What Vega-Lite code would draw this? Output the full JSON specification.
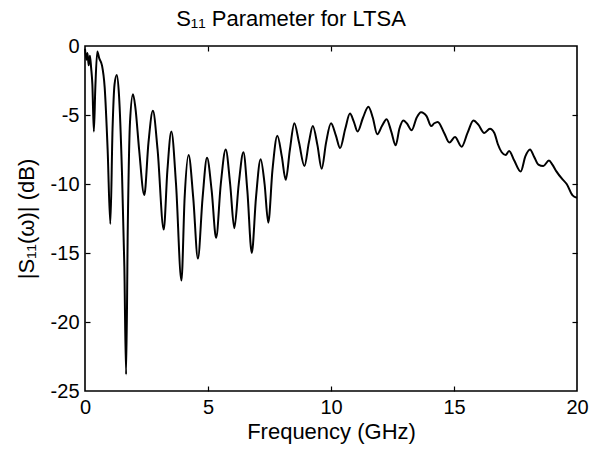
{
  "$schema": "https://vega.github.io/schema/vega-lite/v6.json",
  "width": 492,
  "height": 345,
  "autosize": "none",
  "padding": {"left": 85, "top": 46, "right": 15, "bottom": 58},
  "background": "white",
  "config": {
    "font": "Liberation Sans",
    "view": {"stroke": "black", "strokeWidth": 1.6},
    "axis": {
      "grid": false,
      "domain": false,
      "tickColor": "black",
      "tickWidth": 1.2,
      "labelColor": "black",
      "labelFontSize": 20,
      "labelFont": "Liberation Sans",
      "titleFont": "Liberation Sans",
      "titleFontSize": 22,
      "titleFontWeight": "normal",
      "titleColor": "black"
    }
  },
  "title": {
    "text": "S₁₁ Parameter for LTSA",
    "fontSize": 22,
    "fontWeight": "normal",
    "font": "Liberation Sans",
    "color": "black",
    "offset": 5,
    "dx": -40
  },
  "data": {
    "values": [
      {"f": 0, "db": -0.2}, {"f": 0.06, "db": -1.0}, {"f": 0.1, "db": -0.5}, {"f": 0.15, "db": -1.4},
      {"f": 0.2, "db": -0.7}, {"f": 0.25, "db": -1.6}, {"f": 0.3, "db": -2.8}, {"f": 0.36, "db": -6.2},
      {"f": 0.42, "db": -3.0}, {"f": 0.5, "db": -0.4}, {"f": 0.58, "db": -0.9}, {"f": 0.69, "db": -1.4},
      {"f": 0.8, "db": -3.0}, {"f": 0.92, "db": -7.5}, {"f": 1.03, "db": -12.9}, {"f": 1.12, "db": -6.0},
      {"f": 1.2, "db": -2.8}, {"f": 1.29, "db": -2.1}, {"f": 1.38, "db": -3.5}, {"f": 1.5, "db": -9},
      {"f": 1.6, "db": -16}, {"f": 1.67, "db": -23.8}, {"f": 1.74, "db": -13}, {"f": 1.83, "db": -5.5},
      {"f": 1.95, "db": -3.5}, {"f": 2.05, "db": -4.5}, {"f": 2.2, "db": -7.5}, {"f": 2.41, "db": -10.8},
      {"f": 2.58, "db": -7}, {"f": 2.76, "db": -4.7}, {"f": 2.95, "db": -7.5}, {"f": 3.2, "db": -13.3},
      {"f": 3.35, "db": -9}, {"f": 3.51, "db": -6.2}, {"f": 3.7, "db": -10}, {"f": 3.92, "db": -17.0},
      {"f": 4.05, "db": -11}, {"f": 4.21, "db": -7.9}, {"f": 4.4, "db": -11}, {"f": 4.59, "db": -15.4},
      {"f": 4.78, "db": -11}, {"f": 4.96, "db": -8.1}, {"f": 5.15, "db": -10.5}, {"f": 5.33, "db": -13.9},
      {"f": 5.52, "db": -10}, {"f": 5.72, "db": -7.5}, {"f": 5.9, "db": -10}, {"f": 6.07, "db": -13.2},
      {"f": 6.25, "db": -10}, {"f": 6.44, "db": -7.7}, {"f": 6.6, "db": -10.5}, {"f": 6.78, "db": -15.0},
      {"f": 6.95, "db": -11}, {"f": 7.14, "db": -8.2}, {"f": 7.3, "db": -10}, {"f": 7.45, "db": -12.8},
      {"f": 7.62, "db": -9}, {"f": 7.82, "db": -6.5}, {"f": 8.0, "db": -8}, {"f": 8.16, "db": -9.7},
      {"f": 8.33, "db": -7.5}, {"f": 8.51, "db": -5.6}, {"f": 8.7, "db": -7}, {"f": 8.92, "db": -8.7},
      {"f": 9.1, "db": -7}, {"f": 9.26, "db": -5.8}, {"f": 9.45, "db": -7.2}, {"f": 9.62, "db": -8.9},
      {"f": 9.8, "db": -7}, {"f": 10.0, "db": -5.6}, {"f": 10.2, "db": -6.5}, {"f": 10.37, "db": -7.4},
      {"f": 10.58, "db": -6}, {"f": 10.77, "db": -4.9}, {"f": 10.93, "db": -5.5}, {"f": 11.08, "db": -6.2},
      {"f": 11.3, "db": -5.2}, {"f": 11.52, "db": -4.4}, {"f": 11.7, "db": -5.2}, {"f": 11.88, "db": -6.4},
      {"f": 12.07, "db": -5.8}, {"f": 12.26, "db": -5.3}, {"f": 12.45, "db": -6.2}, {"f": 12.63, "db": -7.2},
      {"f": 12.78, "db": -6}, {"f": 12.94, "db": -5.4}, {"f": 13.08, "db": -5.6}, {"f": 13.28, "db": -6.1},
      {"f": 13.48, "db": -5.2}, {"f": 13.66, "db": -4.8}, {"f": 13.89, "db": -5.1}, {"f": 14.07, "db": -5.8},
      {"f": 14.2, "db": -5.6}, {"f": 14.34, "db": -5.5}, {"f": 14.6, "db": -6.3}, {"f": 14.81, "db": -7.0},
      {"f": 15.04, "db": -6.6}, {"f": 15.31, "db": -7.3}, {"f": 15.55, "db": -6.3}, {"f": 15.79, "db": -5.4},
      {"f": 15.99, "db": -5.7}, {"f": 16.23, "db": -6.3}, {"f": 16.46, "db": -6.0}, {"f": 16.64, "db": -6.3},
      {"f": 16.78, "db": -7.1}, {"f": 16.94, "db": -7.7}, {"f": 17.1, "db": -7.9}, {"f": 17.24, "db": -7.6},
      {"f": 17.45, "db": -8.3}, {"f": 17.71, "db": -9.1}, {"f": 17.9, "db": -8.0}, {"f": 18.09, "db": -7.5},
      {"f": 18.25, "db": -8.0}, {"f": 18.43, "db": -8.6}, {"f": 18.63, "db": -8.7}, {"f": 18.86, "db": -8.3},
      {"f": 19.0, "db": -8.6}, {"f": 19.17, "db": -9.1}, {"f": 19.38, "db": -9.6}, {"f": 19.58, "db": -10.0},
      {"f": 19.81, "db": -10.8}, {"f": 20.0, "db": -11.0}
    ]
  },
  "layer": [
    {
      "mark": {"type": "line", "color": "black", "strokeWidth": 2, "interpolate": "monotone"},
      "encoding": {
        "x": {
          "field": "f", "type": "quantitative",
          "scale": {"domain": [0, 20], "nice": false},
          "axis": {"values": [0, 5, 10, 15, 20], "title": "Frequency (GHz)", "ticks": false, "labelPadding": 6, "titlePadding": 4, "labelFlush": false}
        },
        "y": {
          "field": "db", "type": "quantitative",
          "scale": {"domain": [-25, 0], "nice": false, "zero": false},
          "axis": {"values": [0, -5, -10, -15, -20, -25], "title": "|S₁₁(ω)| (dB)", "ticks": false, "labelPadding": 6, "titlePadding": 12, "labelFlush": false, "labelExpr": "replace(datum.label, '−', '-')"}
        }
      }
    },
    {
      "mark": {"type": "line", "opacity": 0},
      "encoding": {
        "x": {
          "field": "f", "type": "quantitative",
          "axis": {"orient": "bottom", "offset": -5, "tickSize": 5, "values": [5, 10, 15], "labels": false, "title": null}
        },
        "y": {
          "field": "db", "type": "quantitative",
          "axis": {"orient": "left", "offset": -5, "tickSize": 5, "values": [-5, -10, -15, -20], "labels": false, "title": null}
        }
      }
    },
    {
      "mark": {"type": "line", "opacity": 0},
      "encoding": {
        "x": {
          "field": "f", "type": "quantitative",
          "axis": {"orient": "top", "offset": -5, "tickSize": 5, "values": [5, 10, 15], "labels": false, "title": null}
        },
        "y": {
          "field": "db", "type": "quantitative",
          "axis": {"orient": "right", "offset": -5, "tickSize": 5, "values": [-5, -10, -15, -20], "labels": false, "title": null}
        }
      }
    }
  ],
  "resolve": {"axis": {"x": "independent", "y": "independent"}}
}
